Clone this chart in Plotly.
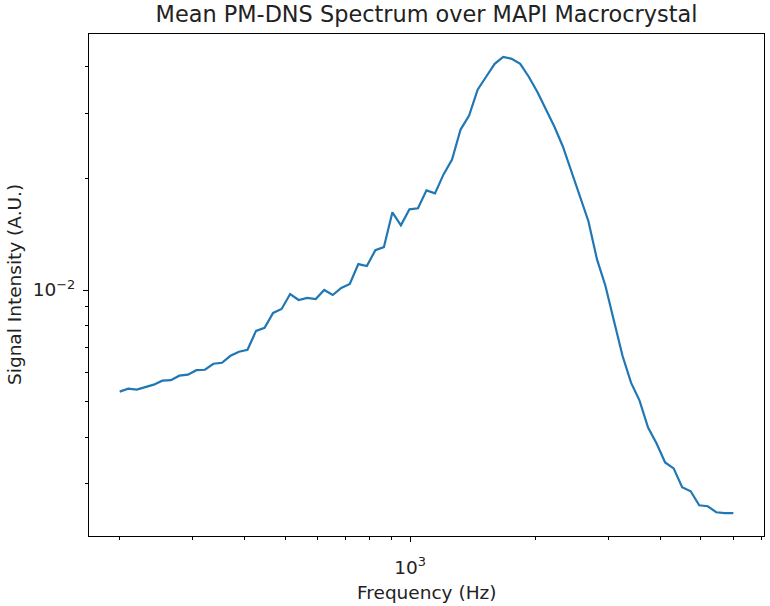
import numpy as np
import plotly.graph_objects as go

freq_hz = [200.0, 209.7, 219.8, 230.5, 241.6, 253.3, 265.6, 278.4, 291.9, 306.0,
           320.8, 336.3, 352.6, 369.6, 387.5, 406.2, 425.9, 446.5, 468.1, 490.7,
           514.5, 539.3, 565.4, 592.8, 621.4, 651.5, 683.0, 716.0, 750.7, 787.0,
           825.0, 864.9, 906.8, 950.6, 996.6, 1044.8, 1095.3, 1148.3, 1203.9, 1262.1,
           1323.2, 1387.2, 1454.3, 1524.6, 1598.4, 1675.7, 1756.7, 1841.7, 1930.8, 2024.2,
           2122.1, 2224.8, 2332.4, 2445.2, 2563.5, 2687.5, 2817.5, 2953.8, 3096.7, 3246.5,
           3403.5, 3568.1, 3740.7, 3921.7, 4111.4, 4310.2, 4518.7, 4737.3, 4966.4, 5206.7,
           5458.5, 5722.6, 6000.0]

signal_au = [0.005319, 0.005418, 0.005385, 0.005469, 0.005554, 0.005694, 0.005711, 0.005873,
             0.005909, 0.006076, 0.006094, 0.006325, 0.006364, 0.006646, 0.006813, 0.006898,
             0.007759, 0.007904, 0.008673, 0.008891, 0.009755, 0.009400, 0.009517, 0.009458,
             0.010000, 0.009695, 0.010125, 0.010378, 0.011746, 0.011602, 0.012809, 0.013049,
             0.016206, 0.014953, 0.016510, 0.016612, 0.018570, 0.018229, 0.020504, 0.022498,
             0.027089, 0.029542, 0.034700, 0.037609, 0.040760, 0.042565, 0.042041, 0.040760,
             0.037609, 0.034273, 0.030849, 0.027597, 0.024383, 0.020888, 0.017783, 0.015328,
             0.012115, 0.010251, 0.008254, 0.006646, 0.005623, 0.005030, 0.004256, 0.003855,
             0.003427, 0.003302, 0.002936, 0.002864, 0.002626, 0.002610, 0.002515, 0.002500,
             0.002500]

x_major = [1000]
x_major_text = ["10<sup>3</sup>"]
x_minor = [200, 300, 400, 500, 600, 700, 800, 900, 2000, 3000, 4000, 5000, 6000, 7000]
y_major = [0.01]
y_major_text = ["10<sup>\u22122</sup>"]
y_minor = [0.003, 0.004, 0.005, 0.006, 0.007, 0.008, 0.009, 0.02, 0.03, 0.04]

title = "Mean PM-DNS Spectrum over MAPI Macrocrystal"
x_title = "Frequency (Hz)"
y_title = "Signal Intensity (A.U.)"

lx = np.log10(freq_hz)
ly = np.log10(signal_au)
mx = 0.05 * (lx.max() - lx.min())
my = 0.05 * (ly.max() - ly.min())

FONT = "DejaVu Sans"
LBL = 18.5

fig = go.Figure()
fig.add_trace(go.Scatter(x=freq_hz, y=signal_au, mode="lines",
                         line=dict(color="#1f77b4", width=2.2), showlegend=False))

axis_common = dict(type="log", showgrid=False, zeroline=False, showline=True,
                   linecolor="black", linewidth=1.1, mirror=True, ticks="outside",
                   ticklen=5, tickwidth=1.1, tickcolor="black",
                   tickfont=dict(family=FONT, size=LBL, color="#222222"))

fig.update_xaxes(**axis_common, range=[lx.min() - mx, lx.max() + mx],
                 tickmode="array", tickvals=x_major, ticktext=x_major_text,
                 ticklabelstandoff=10,
                 minor=dict(tickmode="array", tickvals=x_minor, ticks="outside",
                            ticklen=3, tickwidth=0.9, tickcolor="black", showgrid=False))
fig.update_yaxes(**axis_common, range=[ly.min() - my, ly.max() + my],
                 tickmode="array", tickvals=y_major, ticktext=y_major_text,
                 ticklabelstandoff=4,
                 minor=dict(tickmode="array", tickvals=y_minor, ticks="outside",
                            ticklen=3, tickwidth=0.9, tickcolor="black", showgrid=False))

fig.update_layout(
    width=770, height=606,
    margin=dict(l=89, r=6, t=34, b=70),
    paper_bgcolor="white", plot_bgcolor="white",
    font=dict(family=FONT, size=LBL, color="#222222"),
    title=dict(text=title, x=(89 + 764) / 2 / 770, xanchor="center",
               y=1 - 14 / 606, yanchor="middle",
               font=dict(family=FONT, size=22.4, color="#222222")),
    annotations=[
        dict(text=x_title, xref="paper", yref="paper", x=0.5, y=0,
             xanchor="center", yanchor="middle", yshift=-56, showarrow=False,
             font=dict(family=FONT, size=LBL, color="#222222")),
        dict(text=y_title, xref="paper", yref="paper", x=0, y=0.5,
             xanchor="center", yanchor="middle", xshift=-75, textangle=-90,
             showarrow=False, font=dict(family=FONT, size=LBL, color="#222222")),
    ],
)

fig.write_html("out.html")
